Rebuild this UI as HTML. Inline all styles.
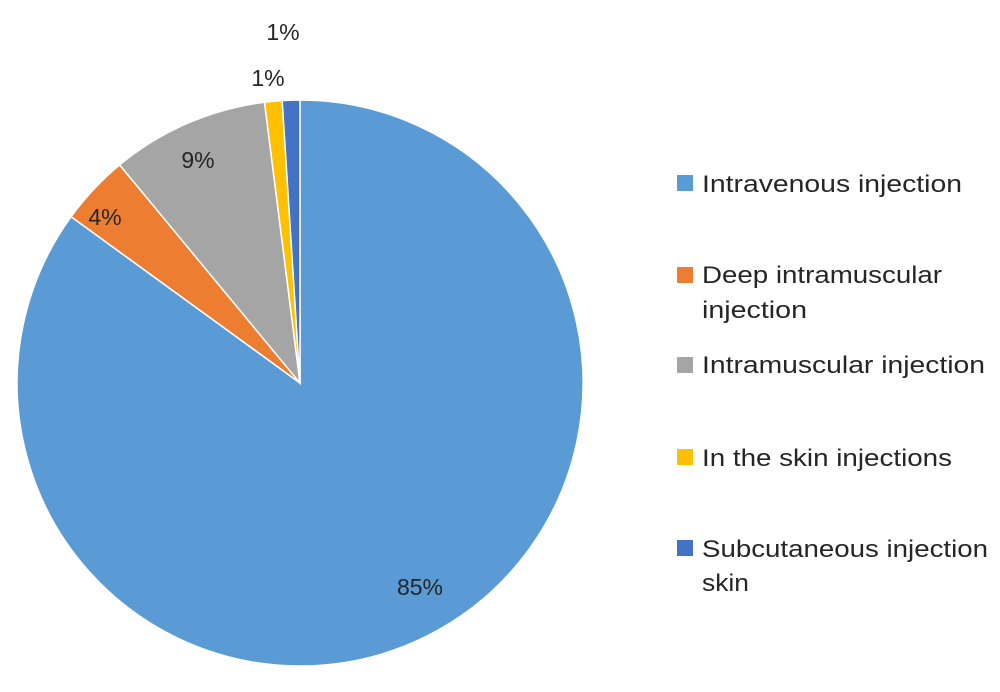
<!DOCTYPE html>
<html><head><style>
body{margin:0;background:#fff;}
svg text{font-family:"Liberation Sans",sans-serif;fill:#262626;}
</style></head><body>
<svg width="1000" height="687" viewBox="0 0 1000 687">
<g stroke="#fff" stroke-width="1.5">
<path d="M300,383 L300,100 A283,283 0 1,1 71.1,216.7 Z" fill="#5b9bd5"/>
<path d="M300,383 L71.1,216.7 A283,283 0 0,1 119.6,164.9 Z" fill="#ed7d31"/>
<path d="M300,383 L119.6,164.9 A283,283 0 0,1 264.5,102.2 Z" fill="#a5a5a5"/>
<path d="M300,383 L264.5,102.2 A283,283 0 0,1 282.2,100.6 Z" fill="#ffc000"/>
<path d="M300,383 L282.2,100.6 A283,283 0 0,1 300,100 Z" fill="#4472c4"/>
</g>
<g font-size="23" text-anchor="middle">
<text x="420" y="595">85%</text>
<text x="105" y="225">4%</text>
<text x="198" y="168">9%</text>
<text x="268" y="86">1%</text>
<text x="283" y="40">1%</text>
</g>
<g font-size="24">
<rect x="677" y="175" width="16" height="16" fill="#5b9bd5"/>
<text x="702" y="192" textLength="260" lengthAdjust="spacingAndGlyphs">Intravenous injection</text>
<rect x="677" y="267" width="16" height="16" fill="#ed7d31"/>
<text x="702" y="283" textLength="240" lengthAdjust="spacingAndGlyphs">Deep intramuscular</text>
<text x="702" y="318" textLength="105" lengthAdjust="spacingAndGlyphs">injection</text>
<rect x="677" y="357" width="16" height="16" fill="#a5a5a5"/>
<text x="702" y="373" textLength="283" lengthAdjust="spacingAndGlyphs">Intramuscular injection</text>
<rect x="677" y="449" width="16" height="16" fill="#ffc000"/>
<text x="702" y="466" textLength="250" lengthAdjust="spacingAndGlyphs">In the skin injections</text>
<rect x="677" y="540" width="16" height="16" fill="#4472c4"/>
<text x="702" y="557" textLength="286" lengthAdjust="spacingAndGlyphs">Subcutaneous injection</text>
<text x="702" y="591" textLength="47" lengthAdjust="spacingAndGlyphs">skin</text>
</g>
</svg>
</body></html>
